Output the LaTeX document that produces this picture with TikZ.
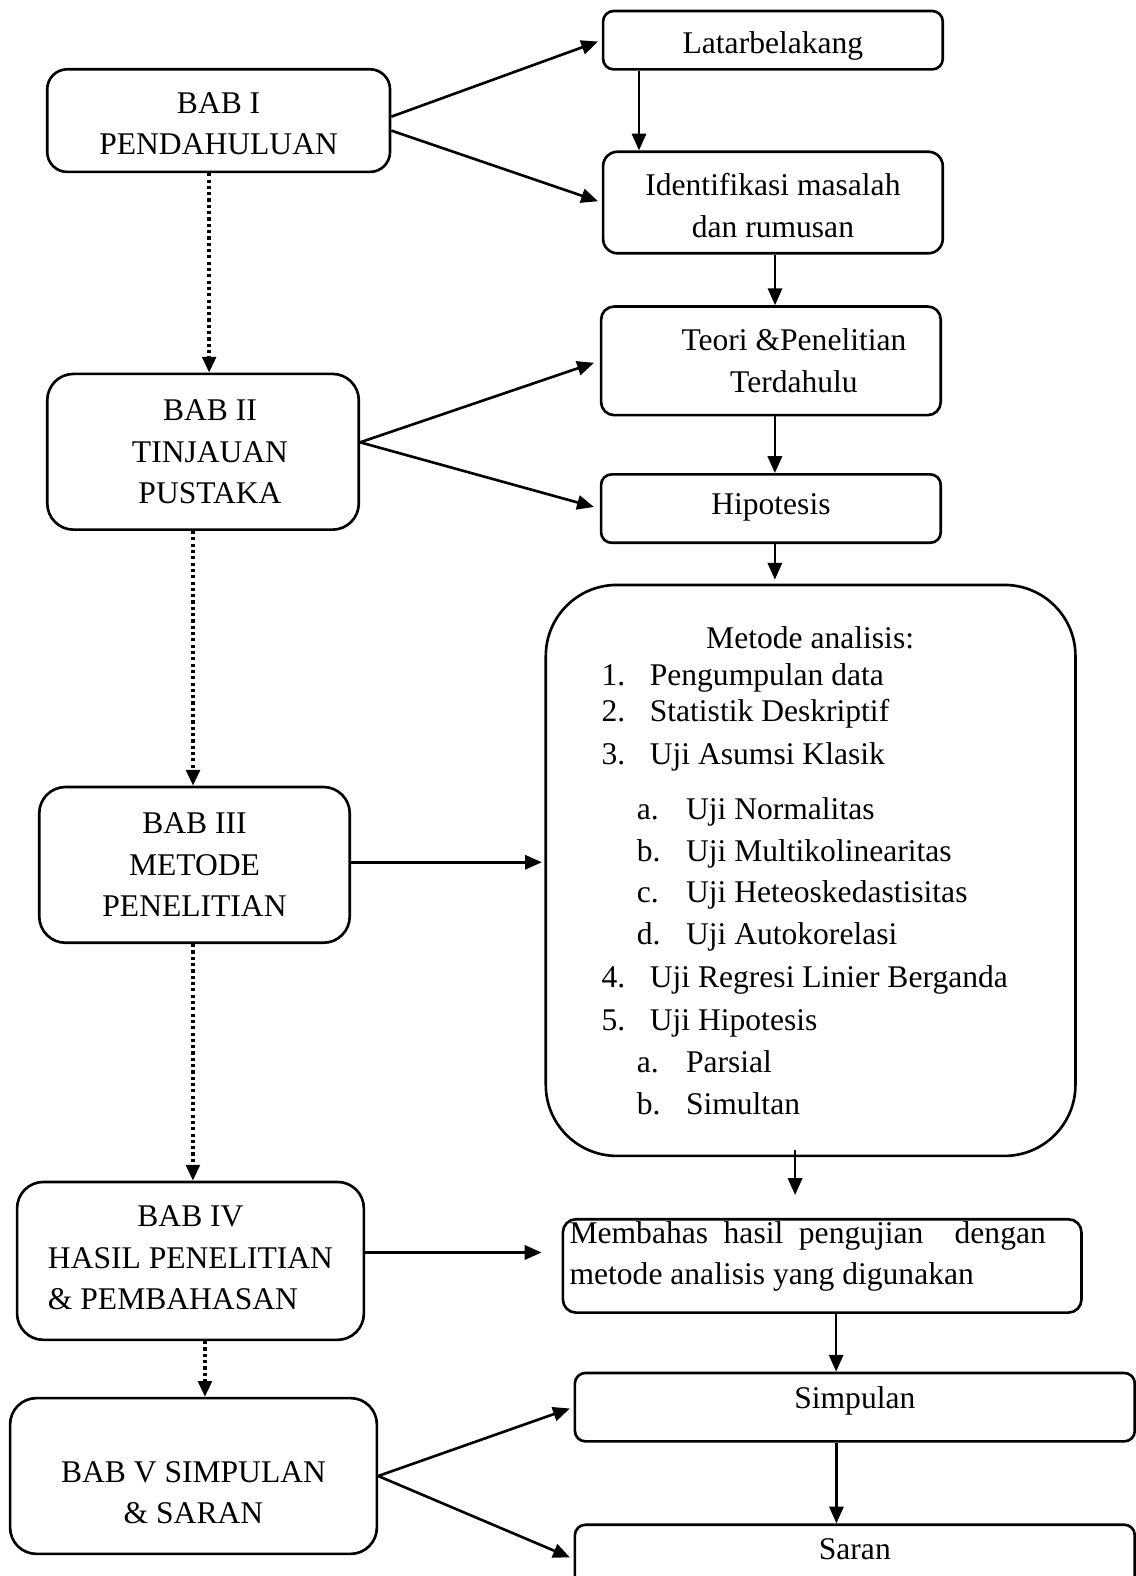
\documentclass[tikz,border=0pt]{standalone}
\usepackage{fontspec}
\setmainfont{Liberation Serif}
\usetikzlibrary{arrows.meta}
\usetikzlibrary{positioning}
\usetikzlibrary{calc}

\begin{document}
\begin{tikzpicture}[x=0.382pt,y=-0.382pt,
  font=\fontsize{12}{15.8}\selectfont,
  box/.style={draw, line width=1pt, align=center, inner sep=0pt},
  arr/.style={line width=1pt, -{Triangle[length=6.4pt,width=5.4pt]}},
  dotarr/.style={line width=1.3pt, dash pattern=on 1.2pt off 1.2pt, -{Triangle[length=6pt,width=5.2pt]}},
  item/.style={anchor=base west, inner sep=0pt}]
\useasboundingbox (0,0) rectangle (1130,1568);

%Shape: Rounded Rect [left column]
\node (bab1) [box, rounded corners=7.6pt, minimum width=130.3pt, minimum height=39pt] at (217.5,120) {\rule{0pt}{10.2pt}BAB I\\PENDAHULUAN};
\node (bab2) [box, rounded corners=10pt, minimum width=118.4pt, minimum height=59.2pt] at (202,449.5) {\hspace*{5.3pt}BAB II\\\hspace*{5.3pt}TINJAUAN\\\hspace*{5.3pt}PUSTAKA};
\node (bab3) [box, rounded corners=10pt, minimum width=118pt, minimum height=59.2pt] at (193.5,860.5) {BAB III\\METODE\\PENELITIAN};
\node (bab4) [box, rounded corners=10pt, minimum width=131.8pt, minimum height=60pt] at (189.5,1254.5) {BAB IV\\HASIL PENELITIAN\\\& PEMBAHASAN\hspace*{13.3pt}\rule[-2.5pt]{0pt}{2.5pt}};
\node (bab5) [box, rounded corners=10pt, minimum width=139.4pt, minimum height=59.2pt] at (192.5,1468.5) {\rule{0pt}{20.7pt}BAB V SIMPULAN\\\& SARAN};

%Shape: Rounded Rect [right column]
\node (lat) [box, rounded corners=4pt, minimum width=129.1pt, minimum height=22.2pt] at (769,40) {\rule{0pt}{12.6pt}Latarbelakang};
\node (iden) [box, rounded corners=5.5pt, minimum width=129.1pt, minimum height=38.6pt] at (769,201.5) {\rule{0pt}{10.8pt}Identifikasi masalah\\dan rumusan};
\node (teori) [box, rounded corners=5pt, minimum width=129.1pt, minimum height=41.3pt] at (767,359) {\hspace*{17.5pt}Teori \&Penelitian\\\hspace*{17.5pt}Terdahulu};
\node (hipo) [box, text depth=3.4pt, rounded corners=4pt, minimum width=129.1pt, minimum height=26pt] at (767,506) {Hipotesis};
\node (metode) [box, rounded corners=27pt, minimum width=201.3pt, minimum height=217pt] at (806.5,866) {};
\node (memb) [box, rounded corners=5pt, minimum width=197.1pt, minimum height=35.5pt] at (818,1259.5) {\begin{minipage}{181pt}\setlength{\parindent}{0pt}Membahas hasil pengujian\ \ dengan\linebreak metode analisis yang digunakan\par\vspace*{7.2pt}\end{minipage}\hspace{11pt}};
\node (simp) [box, text depth=7.1pt, rounded corners=4pt, minimum width=212.8pt, minimum height=26pt] at (850.5,1400) {Simpulan};
\node (saran) [box, text depth=7.5pt, rounded corners=4pt, minimum width=212.8pt, minimum height=26pt] at (850.5,1551) {Saran};

% Text Node [metode analisis]
\node (mhead) [anchor=base, inner sep=0pt] at (806,645) {Metode analisis:};
\node (n1) [item] at (598,682) {1.};
\node (t1) [item] at (646,682) {Pengumpulan data};
\node (n2) [item] at (598,718) {2.};
\node (t2) [item] at (646,718) {Statistik Deskriptif};
\node (n3) [item] at (598,761) {3.};
\node (t3) [item] at (646,761) {Uji Asumsi Klasik};
\node (l3a) [item] at (633,815) {a.};
\node (t3a) [item] at (682,815) {Uji Normalitas};
\node (l3b) [item] at (633,857) {b.};
\node (t3b) [item] at (682,857) {Uji Multikolinearitas};
\node (l3c) [item] at (633,898) {c.};
\node (t3c) [item] at (682,898) {Uji Heteoskedastisitas};
\node (l3d) [item] at (633,940) {d.};
\node (t3d) [item] at (682,940) {Uji Autokorelasi};
\node (n4) [item] at (598,982) {4.};
\node (t4) [item] at (646,982) {Uji Regresi Linier Berganda};
\node (n5) [item] at (598,1025) {5.};
\node (t5) [item] at (646,1025) {Uji Hipotesis};
\node (l5a) [item] at (633,1067) {a.};
\node (t5a) [item] at (682,1067) {Parsial};
\node (l5b) [item] at (633,1109) {b.};
\node (t5b) [item] at (682,1109) {Simultan};

%Straight Lines [bab to right column]
\draw [arr, shorten >=1.5pt] ([yshift=1.5pt]bab1.east) -- (lat.west);
\draw [arr, shorten >=1.5pt] ([yshift=-3.8pt]bab1.east) -- (iden.west);
\draw [arr, shorten >=2.3pt] ([yshift=3.6pt]bab2.east) -- (teori.west);
\draw [arr, shorten >=2.3pt] ([yshift=3.6pt]bab2.east) -- (hipo.west);
\draw [arr, shorten >=1pt] ([yshift=1pt]bab3.east) -- ([yshift=1pt]bab3.east -| metode.west);
\draw [arr, shorten >=7.6pt] ([yshift=3.2pt]bab4.east) -- ([yshift=3.2pt]bab4.east -| memb.west);
\draw [arr, shorten >=1.5pt] (bab5.east) -- (simp.west);
\draw [arr, shorten >=1.5pt] (bab5.east) -- (saran.west);

%Straight Lines [right column, downwards]
\draw [arr] ([xshift=-50.9pt]lat.south) -- ([xshift=-50.9pt]lat.south |- iden.north);
\draw [arr] ([xshift=0.8pt]iden.south) -- ([xshift=0.8pt]iden.south |- teori.north);
\draw [arr] ([xshift=1.5pt]teori.south) -- ([xshift=1.5pt]teori.south |- hipo.north);
\draw [arr, shorten >=1.5pt] ([xshift=1.5pt]hipo.south) -- ([xshift=1.5pt]hipo.south |- metode.north);
\draw [arr, shorten <=-2.7pt, shorten >=8.7pt] ([xshift=-5.9pt]metode.south) -- ([xshift=-5.9pt]metode.south |- memb.north);
\draw [arr] ([xshift=5.3pt]memb.south) -- ([xshift=5.3pt]memb.south |- simp.north);
\draw [arr] ([xshift=-7pt]simp.south) -- ([xshift=-7pt]saran.north);

%Dotted Lines [bab chain]
\draw [dotarr] ([xshift=-3.6pt]bab1.south) -- ([xshift=-3.6pt]bab1.south |- bab2.north);
\draw [dotarr] ([xshift=-3.8pt]bab2.south) -- ([xshift=-3.8pt]bab2.south |- bab3.north);
\draw [dotarr] ([xshift=-0.6pt]bab3.south) -- ([xshift=-0.6pt]bab3.south |- bab4.north);
\draw [dotarr] ([xshift=5.5pt]bab4.south) -- ([xshift=5.5pt]bab4.south |- bab5.north);

\end{tikzpicture}
\end{document}
